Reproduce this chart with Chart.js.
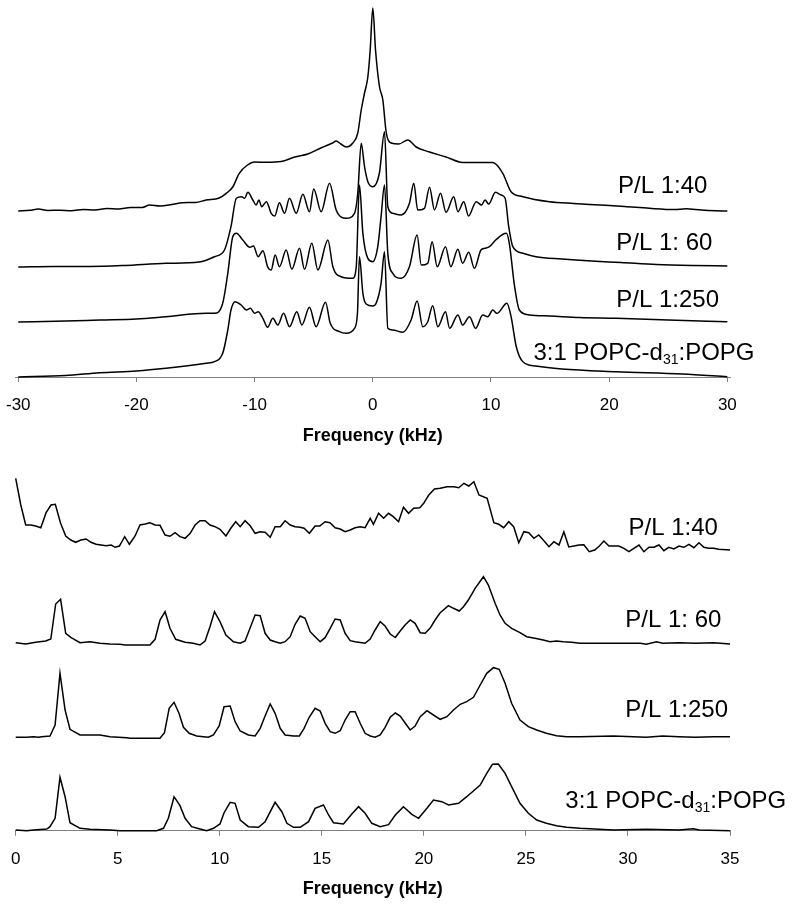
<!DOCTYPE html>
<html lang="en">
<head>
<meta charset="UTF-8">
<title>2H NMR spectra</title>
<script src="https://cdn.jsdelivr.net/npm/chart.js"></script>
<style>
  body { margin: 0; background: #fff; }
  canvas { position: absolute; left: 0; }
  #topChart { top: 0; }
  #bottomChart { top: 450px; }
</style>
</head>
<body>
<canvas id="topChart" width="800" height="450"></canvas>
<canvas id="bottomChart" width="800" height="455"></canvas>
<script>
// ---------- data ----------
// sample names (same order in both panels, top trace first)
const sampleNames = ['P/L 1:40', 'P/L 1: 60', 'P/L 1:250', ['3:1 POPC-d', '31', ':POPG']];

// top panel: powder spectra, frequency in kHz, intensity in a.u.
const topTicks = [-30, -20, -10, 0, 10, 20, 30];
const topOffsets = [166, 110, 55, 0];

const t40X = [-30, -29, -28.3, -27.5, -26.5, -25.5, -24.5, -23.5, -22.5, -21.5, -20.5, -19.5, -18.9, -18, -17, -16.1, -15, -14.1, -13.0, -12.4, -11.85, -11.3, -10.6, -10.0, -9.0, -7.75, -6.6, -5.5, -4.4, -3.4, -3.1, -2.7, -2.25, -1.69, -1.27, -0.98, -0.7, -0.42, -0.22, 0, 0.23, 0.57, 0.85, 1.13, 1.55, 2.2, 2.96, 3.67, 4.8, 6.2, 7.6, 8.9, 10.15, 11.0, 11.7, 12.7, 14.95, 17.0, 19.2, 21.3, 23.4, 25.5, 26.5, 27.8, 29, 30];
const t40Y = [0, 0.7, 2, 0.5, 0.8, 0.3, 1.5, 1, 2.5, 2, 3.5, 3.5, 6, 5, 6.5, 8.3, 8.5, 11, 13, 17.7, 24, 37.7, 46, 49, 48.7, 49.5, 54, 57, 63, 68, 70, 67, 64, 68, 78, 101, 118, 134, 161, 203, 161, 124, 111, 79, 68, 67, 71, 64, 59, 54, 48.5, 48.5, 48.5, 37.7, 19.3, 14.3, 9.3, 7.5, 6, 4.5, 2.7, 1.5, 2.2, 1, 0.3, 0];

const t60X = [-30, -27, -24, -21, -17.5, -14.7, -13.4, -12.55, -12.0, -11.55, -11.1, -10.85, -10.57, -10.15, -9.87, -9.64, -9.4, -9.0, -8.6, -8.3, -7.9, -7.47, -7.05, -6.48, -5.92, -5.36, -5.0, -4.37, -3.66, -3.1, -2.25, -1.55, -1.27, -0.98, -0.7, -0.42, 0, 0.56, 0.99, 1.27, 1.69, 2.4, 3.1, 3.47, 3.8, 4.37, 4.8, 5.22, 5.73, 6.2, 6.85, 7.2, 7.7, 8.1, 8.75, 9.2, 9.5, 9.8, 10.38, 10.86, 11.2, 11.5, 11.85, 12.7, 13.8, 16, 18.5, 21, 24, 27, 30];
const t60Y = [0, 0.5, 0.5, 1.5, 3.7, 5, 10.3, 17, 40.3, 68.7, 70.3, 68.7, 74.7, 67, 62, 67, 60.3, 65.3, 53.7, 51, 64.3, 53.7, 68.7, 53.7, 72.7, 55.3, 78, 55.3, 83.7, 57, 48.7, 53.7, 74, 123.7, 100.3, 85.3, 80.3, 94, 135.3, 60.3, 53.7, 52, 63.7, 83.7, 57, 58.7, 79.7, 57, 73.7, 54.7, 70.3, 55.3, 65.3, 51, 65.3, 62, 67, 63, 74.7, 72, 68.7, 40.3, 20.3, 13.7, 10.3, 8, 6, 4.5, 2.5, 1.5, 1];

const t250X = [-30, -26, -23.1, -20, -17.5, -14.1, -13.4, -12.7, -12.27, -11.85, -11.55, -11.0, -10.4, -10.1, -9.7, -9.3, -8.9, -8.6, -8.26, -7.9, -7.33, -6.85, -6.2, -5.78, -5.16, -4.65, -3.8, -3.38, -2.68, -1.69, -1.4, -1.13, -0.84, -0.42, 0, 0.42, 0.7, 0.99, 1.27, 1.69, 2.4, 3.1, 3.75, 4.1, 4.65, 5.02, 5.45, 6.15, 6.6, 7.2, 7.6, 8.12, 8.6, 9.15, 9.5, 9.87, 10.4, 11.3, 11.55, 12.0, 12.4, 13.25, 15, 17.5, 20.6, 25, 30];
const t250Y = [0, 1, 2, 3, 5.3, 8.7, 8.7, 18.7, 48.7, 85.3, 88.7, 82, 74.7, 76, 65.3, 71.3, 55.3, 52, 67, 55.3, 72, 52.7, 73.7, 52.7, 78.7, 52, 82, 55.3, 45.3, 43.7, 55.3, 137, 88.7, 63.7, 60.3, 75.3, 105.3, 137, 68.7, 48.7, 43.7, 55.3, 87, 57, 58.7, 80.3, 55.3, 75.3, 55.3, 72.7, 58.7, 69.7, 53.7, 72, 73.7, 75.3, 82, 88.7, 78.7, 35.3, 12, 7, 6, 4.5, 3.7, 2, 0.3];

const tRefX = [-30, -26, -23.1, -20, -17.5, -14.1, -13.4, -12.7, -12.27, -12.0, -11.65, -11.14, -10.7, -10.35, -10.0, -9.7, -9.3, -8.9, -8.46, -8.04, -7.55, -7.05, -6.43, -6.0, -5.36, -4.8, -4.0, -3.6, -2.82, -2.25, -1.55, -1.3, -1.13, -0.84, -0.56, 0, 0.28, 0.7, 0.99, 1.27, 1.69, 2.54, 3.24, 3.75, 4.23, 4.65, 5.07, 5.5, 6.15, 6.5, 7.2, 7.6, 8.18, 8.7, 9.3, 9.73, 10.15, 10.5, 11.35, 11.7, 12.14, 12.7, 13.8, 16, 20.6, 26.2, 30];
const tRefY = [0, 1.5, 4.3, 6, 8.7, 13.7, 15.3, 23.7, 47, 67, 75.3, 72, 67, 68.7, 63.7, 65.3, 58.7, 49.7, 58.7, 52, 63.7, 50.3, 65.3, 52, 69.7, 50.3, 74.7, 53.7, 45.3, 43.7, 48.7, 63.7, 120.3, 83.7, 73, 71, 73.7, 93.7, 125.3, 48.7, 47, 44.7, 57, 76, 50.3, 55.3, 71.3, 50.3, 65.3, 48.7, 62, 52, 60.3, 48.7, 62, 60.3, 67, 63.7, 73.7, 60.3, 30.3, 15.3, 11, 8, 5.3, 3, 0.3];

// bottom panel: de-Paked spectra, 0 - 35 kHz
const bottomTicks = [0, 5, 10, 15, 20, 25, 30, 35];
const bottomOffsets = [280.7, 187.7, 93.7, 0];

const b40X = [0, 0.25, 0.49, 0.74, 0.98, 1.23, 1.49, 1.73, 1.94, 2.2, 2.45, 2.7, 2.94, 3.19, 3.45, 3.69, 3.94, 4.18, 4.43, 4.68, 4.87, 5.08, 5.34, 5.57, 5.85, 6.09, 6.34, 6.58, 6.83, 7.07, 7.32, 7.56, 7.81, 8.05, 8.3, 8.55, 8.79, 9.03, 9.28, 9.52, 9.77, 10.01, 10.3, 10.54, 10.78, 11.0, 11.24, 11.5, 11.73, 11.98, 12.22, 12.47, 12.71, 12.96, 13.2, 13.45, 13.69, 13.94, 14.13, 14.39, 14.67, 14.9, 15.16, 15.4, 15.65, 15.9, 16.14, 16.39, 16.63, 16.88, 17.12, 17.37, 17.53, 17.78, 18.03, 18.27, 18.5, 18.76, 19.0, 19.25, 19.5, 19.8, 19.99, 20.24, 20.52, 20.8, 21.14, 21.47, 21.71, 21.96, 22.2, 22.45, 22.7, 23.1, 23.43, 23.67, 23.91, 24.16, 24.4, 24.65, 24.9, 25.14, 25.39, 25.63, 25.88, 26.13, 26.37, 26.62, 26.86, 27.1, 27.35, 27.6, 27.84, 28.1, 28.37, 28.6, 28.82, 29.07, 29.3, 29.55, 29.8, 30.05, 30.29, 30.54, 30.78, 31.03, 31.27, 31.52, 31.76, 32.0, 32.25, 32.5, 32.74, 32.99, 33.23, 33.48, 33.72, 33.96, 34.2, 34.45, 35];
const b40Y = [71.7, 45, 25, 25, 24, 22.3, 37.3, 45, 45.7, 26.7, 14, 10, 7.7, 10, 11, 7.7, 5.7, 5, 4.3, 5, 2.7, 4, 13.3, 5.7, 14, 25, 26, 27.3, 25, 24.7, 15, 13.7, 17.3, 13.3, 11.7, 16.7, 25, 29.3, 29.3, 25, 23.3, 20.7, 14, 21.7, 28.3, 23.3, 29.3, 24, 16.7, 18.3, 17.7, 12.7, 23.3, 23.3, 29.3, 25, 23.3, 22.7, 21.7, 16.7, 24, 24, 28.3, 27.3, 22.3, 21, 18.3, 20, 22.3, 23.3, 22.3, 31.7, 25.7, 36.7, 31.7, 36.7, 33.3, 28.3, 42.7, 36.7, 41.7, 42.3, 46.7, 55, 61, 61.7, 63.3, 63.3, 62.3, 66.7, 64, 68.3, 55, 51.7, 27.3, 25.7, 22.3, 28.3, 23.3, 7.3, 18.3, 17.3, 11.7, 15, 9.3, 3.3, 8.3, 5, 18.3, 3, 4, 5, 5.3, -1.7, 0, 4, 9, 4, 4, 4, 1.7, -1.7, 1.7, 5, -1.7, 2.7, 2.7, 5, -0.7, 2.7, 1, 4, 2.7, 5.7, 2.3, 7.3, 2.7, 1.7, 1.7, 0.7, 0];

const b60X = [0, 0.49, 0.98, 1.47, 1.72, 1.96, 2.2, 2.45, 2.7, 3.15, 3.64, 4.13, 4.62, 5.11, 5.36, 6.58, 6.83, 7.07, 7.32, 7.56, 7.84, 8.3, 8.7, 9.03, 9.28, 9.52, 9.74, 10.01, 10.3, 10.67, 11.0, 11.24, 11.48, 11.73, 11.98, 12.22, 12.47, 12.71, 12.96, 13.2, 13.45, 13.69, 13.94, 14.18, 14.43, 14.67, 14.92, 15.16, 15.41, 15.65, 15.9, 16.14, 16.39, 16.63, 17.12, 17.37, 17.61, 17.86, 18.1, 18.35, 18.6, 18.84, 19.08, 19.33, 19.57, 19.82, 20.06, 20.3, 20.55, 20.8, 21.2, 21.45, 21.73, 21.94, 22.18, 22.51, 22.92, 23.16, 23.49, 23.73, 23.98, 24.3, 24.71, 25.04, 25.44, 25.85, 26.18, 26.5, 26.83, 27.24, 27.65, 30.6, 30.9, 31.4, 31.7, 32.5, 33.3, 34.2, 35];
const b60Y = [0.3, -1, 0.7, 2, 4, 39, 43.7, 9.7, 5.7, 0.3, 1.3, -0.3, -1, -1.3, -2, -2, 3.7, 23, 31.3, 14.7, 3.7, 0.7, -0.3, -2, 2, 16.3, 31.3, 21.3, 8, 1.3, -0.3, 2, 14.7, 28, 27.3, 9.7, 3, 1.3, -0.3, 1.3, 6.3, 18.7, 27, 24.7, 11.3, 6.3, 1.3, 5.3, 14.7, 24, 23, 9.7, 2.3, 1.3, -0.3, 4, 13, 21.3, 17, 9, 5.5, 12, 18, 23, 19.7, 10.3, 9.7, 14.7, 23, 30.3, 37.3, 34.7, 32, 36.3, 43, 54.7, 66.3, 58, 39.7, 28, 19.7, 14.7, 10.3, 6.3, 4.7, 3, 1.3, 2, 1.3, 0.7, -0.3, -0.3, -1.3, 1.3, -0.3, 0.3, -0.3, 0.3, -1];

const b250X = [0, 0.54, 0.87, 1.11, 1.27, 1.68, 1.93, 2.17, 2.42, 2.66, 3.15, 4.13, 4.62, 5.44, 5.6, 7.07, 7.29, 7.52, 7.76, 8.0, 8.22, 8.5, 8.87, 9.2, 9.44, 9.69, 9.97, 10.21, 10.51, 10.75, 11.0, 11.4, 11.73, 11.98, 12.22, 12.47, 12.71, 12.96, 13.2, 13.61, 13.9, 14.13, 14.38, 14.67, 14.92, 15.16, 15.41, 15.65, 15.9, 16.14, 16.39, 16.63, 16.88, 17.12, 17.37, 17.61, 17.86, 18.1, 18.35, 18.6, 18.84, 19.08, 19.33, 19.57, 19.82, 20.15, 20.47, 20.8, 21.13, 21.45, 21.78, 22.1, 22.43, 22.76, 23.08, 23.41, 23.69, 23.98, 24.3, 24.71, 25.12, 25.53, 26.0, 26.5, 27.0, 27.65, 29.3, 30.9, 31.7, 32.5, 33.3, 34.2, 35];
const b250Y = [-0.3, -0.3, 0.3, -0.3, 0.3, 1, 12, 63.7, 27, 7.7, 2, 2, 0.3, -0.7, -1.3, -1.3, 4.3, 28.7, 34.7, 23.7, 9.7, 3.7, 1, 0.3, -0.3, 2, 11, 30.3, 31, 15.3, 6, 2, 1, 8.7, 21, 33, 23.7, 8.7, 2, 1, 1, 8.7, 19.7, 28.7, 26, 13.7, 5.3, 3.7, 6.3, 17, 25.3, 25.3, 13.7, 3.7, 1, -0.3, 2, 9.7, 19.7, 24, 21, 14, 7, 11, 20.3, 26.3, 22, 17.7, 20.3, 27, 32.7, 35.3, 39.7, 52, 63.7, 69.3, 67.7, 53.7, 33.7, 17, 10.3, 7, 3.7, 1.3, 0.3, 0.3, 1, -0.3, 1, 0.3, -0.3, 0.3, 0.3];

const bRefX = [0, 0.54, 0.87, 1.52, 1.68, 1.93, 2.17, 2.42, 2.66, 3.15, 3.64, 4.62, 5.11, 6.91, 7.24, 7.48, 7.76, 8.05, 8.3, 8.62, 9.03, 9.36, 9.69, 10.01, 10.21, 10.51, 10.75, 11.0, 11.4, 11.9, 12.22, 12.71, 13.04, 13.29, 13.61, 13.94, 14.35, 14.67, 15.08, 15.33, 15.57, 16.06, 16.47, 16.8, 17.12, 17.45, 17.86, 18.27, 18.6, 19.0, 19.41, 19.74, 20.15, 20.47, 20.88, 21.21, 21.7, 22.1, 22.76, 23.08, 23.36, 23.65, 23.98, 24.3, 24.71, 25.12, 25.53, 26.0, 26.5, 27.0, 27.65, 29.3, 30.9, 32.5, 33.2, 33.5, 35];
const bRefY = [0.7, 0, 0.7, 1.7, 4, 12.4, 53.4, 34, 8, 2.4, 1.4, 0.7, 0, 0, 2.4, 12.4, 34, 25, 12.4, 4, 1.7, 0, 2.4, 6.7, 18, 28.4, 27.4, 10.7, 4, 3.4, 9, 28.4, 19, 7.4, 3.4, 3.4, 9, 22.4, 25.7, 15.7, 8, 6.7, 16.7, 24, 17.4, 7.4, 4, 6, 15.7, 24, 16.4, 12.4, 22.4, 30.7, 29, 25.7, 27.4, 34, 45.7, 57.4, 66.4, 66.7, 57.4, 44, 27.4, 17.4, 10.7, 7.4, 5, 3.4, 2.4, 0.7, 1.4, 0.7, 2, 0.7, 0];

// ---------- drawing ----------
const FONT = '"Liberation Sans", Arial, sans-serif';

// writes the sample names next to the traces
const sampleLabels = {
  id: 'sampleLabels',
  afterDatasetsDraw(chart, args, opts) {
    const ctx = chart.ctx;
    const xs = chart.scales.x, ys = chart.scales.y;
    ctx.save();
    ctx.fillStyle = '#000';
    ctx.textAlign = 'left';
    ctx.textBaseline = 'alphabetic';
    sampleNames.forEach((name, i) => {
      let px = xs.getPixelForValue(opts.at[i][0]);
      const py = ys.getPixelForValue(opts.at[i][1]);
      [].concat(name).forEach((part, j) => {
        const sub = j === 1;
        ctx.font = (sub ? '14px ' : '24px ') + FONT;
        ctx.fillText(part, px, py + (sub ? 4 : 0));
        px += ctx.measureText(part).width;
      });
    });
    ctx.restore();
  }
};

function makeChart(id, traces, offsets, cfg) {
  const datasets = traces.map((t, k) => ({
    data: t[0].map((x, i) => ({ x: x, y: t[1][i] + offsets[k] })),
    borderColor: '#000',
    borderWidth: 1.5,
    pointRadius: 0,
    fill: false,
    cubicInterpolationMode: cfg.smooth ? 'monotone' : 'default',
    tension: 0,
    clip: false
  }));

  return new Chart(document.getElementById(id), {
    type: 'line',
    data: { datasets: datasets },
    plugins: [sampleLabels],
    options: {
      responsive: false,
      animation: false,
      layout: { padding: cfg.padding },
      plugins: {
        legend: { display: false },
        tooltip: { enabled: false },
        sampleLabels: { at: cfg.labelAt }
      },
      scales: {
        x: {
          type: 'linear',
          min: cfg.min,
          max: cfg.max,
          afterBuildTicks: s => { s.ticks = cfg.ticks.map(v => ({ value: v })); },
          afterFit: s => { s.height = cfg.axisHeight; },
          grid: { drawOnChartArea: false, drawTicks: true, tickLength: 5, color: '#808080' },
          border: { display: true, color: '#808080', width: 1 },
          // small padding keeps the plot area from shifting; the tall line box pushes labels down
          ticks: { color: '#000', font: { family: FONT, size: 17, lineHeight: 2.4 }, padding: 3, maxRotation: 0, autoSkip: false },
          title: {
            display: true,
            text: 'Frequency (kHz)',
            color: '#000',
            font: { family: FONT, size: 18, weight: 'bold' },
            padding: { top: 0, bottom: cfg.titlePad }
          }
        },
        y: { display: false, min: 0, max: cfg.ymax }
      }
    }
  });
}

makeChart('topChart',
  [[t40X, t40Y], [t60X, t60Y], [t250X, t250Y], [tRefX, tRefY]],
  topOffsets,
  {
    min: -30.25, max: 30.25, ticks: topTicks, ymax: 377, smooth: true,
    padding: { left: 15.3, right: 69.7, top: 0, bottom: 0 },
    axisHeight: 73, titlePad: 3,
    labelAt: [[20.75, 183.7], [20.6, 127], [20.6, 70.3], [13.6, 17]]
  });

makeChart('bottomChart',
  [[b40X, b40Y], [b60X, b60Y], [b250X, b250Y], [bRefX, bRefY]],
  bottomOffsets,
  {
    min: 0, max: 35, ticks: bottomTicks, ymax: 380.7, smooth: false,
    padding: { left: 15.7, right: 70, top: 0, bottom: 0 },
    axisHeight: 74.3, titlePad: 5.5,
    labelAt: [[30.03, 295.7], [29.87, 204], [29.87, 114], [26.93, 22.4]]
  });
</script>
</body>
</html>
